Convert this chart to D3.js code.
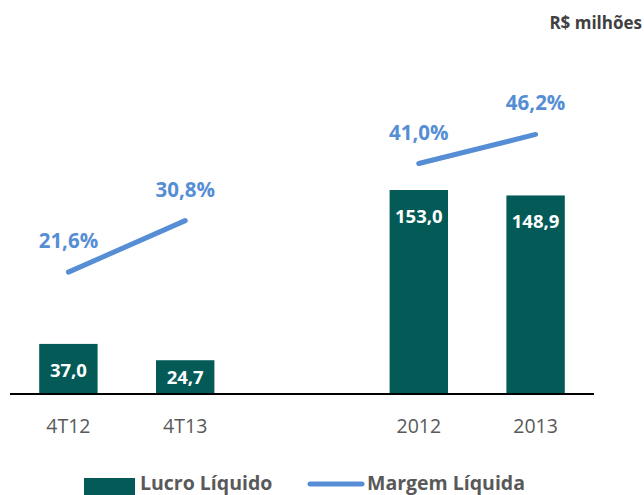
<!DOCTYPE html>
<html>
<head>
<meta charset="utf-8">
<script src="https://cdn.jsdelivr.net/npm/d3@7"></script>
<style>
  body { margin: 0; background: #fff; }
  svg { display: block; font-family: "Open Sans", sans-serif; }
</style>
</head>
<body>
<svg id="chart"></svg>
<script>
// Data
const categories = ["4T12", "4T13", "2012", "2013"];
const lucro = [37.0, 24.7, 153.0, 148.9];          // Lucro Líquido (R$ milhões)
const margem = [21.6, 30.8, 41.0, 46.2];           // Margem Líquida (%)
const segments = [["4T12", "4T13"], ["2012", "2013"]];
const fmt = v => v.toFixed(1).replace(".", ",");

const width = 644;
const height = 495;
const barColor = "#035A56";
const lineColor = "#558ED5";

const svg = d3.select("#chart")
    .attr("width", width)
    .attr("height", height);

// Scales (blank slot between the quarter pair and the year pair)
const x = d3.scaleBand()
    .domain(["4T12", "4T13", "gap", "2012", "2013"])
    .range([10, 594])
    .paddingInner(0.5)
    .paddingOuter(0.25);

const yBar = d3.scaleLinear().domain([0, 251]).range([393, 60]);
const yLine = d3.scaleLinear().domain([0, 59.5]).range([393, 60]);

// Unit label
svg.append("text")
    .attr("x", 642)
    .attr("y", 29)
    .attr("text-anchor", "end")
    .attr("font-size", 17)
    .attr("font-weight", "bold")
    .attr("fill", "#404040")
    .text("R$ milhões");

// Bars
svg.selectAll(".bar")
    .data(categories)
    .enter()
    .append("rect")
    .attr("class", "bar")
    .attr("x", d => x(d))
    .attr("y", (d, i) => yBar(lucro[i]))
    .attr("width", x.bandwidth())
    .attr("height", (d, i) => yBar(0) - yBar(lucro[i]))
    .attr("fill", barColor);

svg.selectAll(".bar-label")
    .data(categories)
    .enter()
    .append("text")
    .attr("class", "bar-label")
    .attr("x", d => x(d) + x.bandwidth() / 2)
    .attr("y", (d, i) => Math.min(yBar(lucro[i]) + 33, yBar(0) - 9))
    .attr("text-anchor", "middle")
    .attr("font-size", 18.5)
    .attr("font-weight", "bold")
    .attr("fill", "#fff")
    .text((d, i) => fmt(lucro[i]));

// Axis
const axis = svg.append("g")
    .attr("transform", `translate(0,${yBar(0)})`)
    .call(d3.axisBottom(x).tickSize(0).tickValues(categories));

axis.select(".domain").remove();
axis.append("line")
    .attr("x1", 10)
    .attr("x2", 594)
    .attr("y1", 1)
    .attr("y2", 1)
    .attr("stroke", "#000")
    .attr("stroke-width", 2);
axis.selectAll(".tick text")
    .attr("y", 40)
    .attr("dy", null)
    .attr("font-family", "Open Sans, sans-serif")
    .attr("font-size", 19.5)
    .attr("fill", "#595959");

// Margin lines (two separate segments)
const line = d3.line()
    .x(d => x(d) + x.bandwidth() / 2)
    .y(d => yLine(margem[categories.indexOf(d)]));

svg.selectAll(".margin-line")
    .data(segments)
    .enter()
    .append("path")
    .attr("class", "margin-line")
    .attr("d", line)
    .attr("fill", "none")
    .attr("stroke", lineColor)
    .attr("stroke-width", 5)
    .attr("stroke-linecap", "round");

svg.selectAll(".margin-label")
    .data(categories)
    .enter()
    .append("text")
    .attr("class", "margin-label")
    .attr("x", d => x(d) + x.bandwidth() / 2)
    .attr("y", (d, i) => yLine(margem[i]) - 24)
    .attr("text-anchor", "middle")
    .attr("font-size", 20.5)
    .attr("font-weight", "bold")
    .attr("fill", lineColor)
    .text((d, i) => fmt(margem[i]) + "%");

// Legend
const legend = svg.append("g").attr("font-size", 19.5).attr("font-weight", "bold").attr("fill", "#595959");
legend.append("rect")
    .attr("x", 84).attr("y", 478)
    .attr("width", 51).attr("height", 17)
    .attr("fill", barColor);
legend.append("text")
    .attr("x", 140).attr("y", 490)
    .text("Lucro Líquido");
legend.append("line")
    .attr("x1", 310).attr("x2", 362)
    .attr("y1", 484).attr("y2", 484)
    .attr("stroke", lineColor)
    .attr("stroke-width", 5)
    .attr("stroke-linecap", "round");
legend.append("text")
    .attr("x", 367).attr("y", 490)
    .text("Margem Líquida");
</script>
</body>
</html>
